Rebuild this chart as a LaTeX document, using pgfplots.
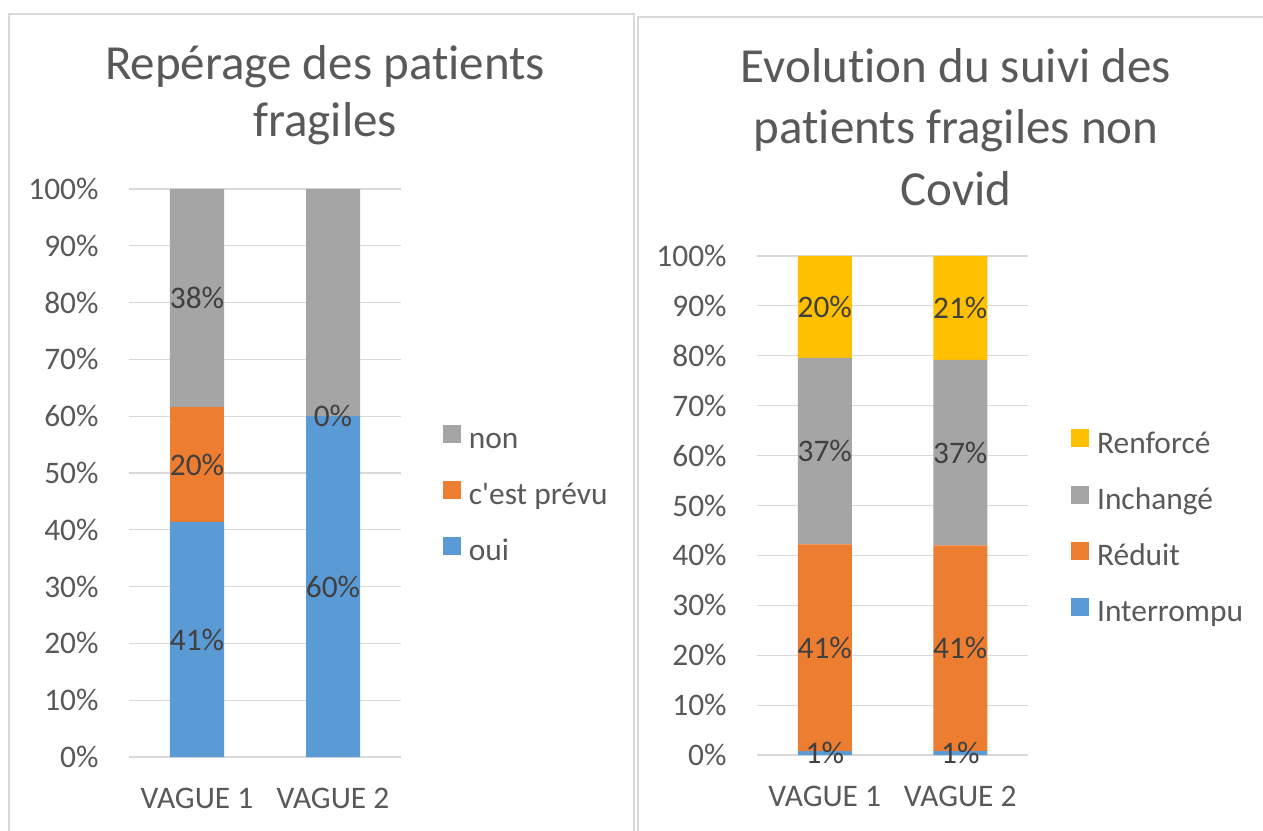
\documentclass[border=0pt]{standalone}
\usepackage{fontspec}
\setmainfont{Carlito}[Ligatures={TeXOff,NoCommon}]
\usepackage{pgfplots}
\pgfplotsset{compat=1.18}

\definecolor{xlblue}{HTML}{5B9BD5}
\definecolor{xlorange}{HTML}{ED7D31}
\definecolor{xlgray}{HTML}{A5A5A5}
\definecolor{xlyellow}{HTML}{FFC000}
\definecolor{txt}{HTML}{595959}
\definecolor{lbl}{HTML}{404040}
\definecolor{gridc}{HTML}{D9D9D9}

\newcommand{\smallfont}{\fontsize{15.7pt}{18pt}\selectfont}
\newcommand{\titlefont}{\fontsize{24.5pt}{29pt}\selectfont}

\pgfplotsset{
  xlchart/.style={
    ybar stacked,
    scale only axis,
    bar width=27pt,
    xmin=-0.5, xmax=1.5,
    ymin=0, ymax=100,
    xtick={0,1},
    xticklabels={VAGUE 1,VAGUE 2},
    ytick={0,10,...,100},
    yticklabel={\pgfmathprintnumber[assume math mode=true]{\tick}\%},
    major tick length=0pt,
    axis line style={draw=none},
    ymajorgrids,
    major grid style={draw=gridc, line width=0.6pt},
    tick label style={font=\smallfont, text=txt, inner sep=0pt},
    yticklabel style={anchor=east, xshift=-15pt},
    xticklabel style={anchor=north, yshift=-15.5pt},
    reverse legend,
    legend cell align=left,
    legend image code/.code={\fill[##1] (0pt,-0.9pt) rectangle (9pt,8.1pt);},
    legend style={draw=none, fill=none, inner sep=0pt, outer sep=0pt,
      column sep=4pt, row sep=12.7pt,
      nodes={inner sep=0pt, font=\smallfont, text=txt, text height=11pt, text depth=3.5pt}},
  },
  % same axis again, only the data labels, so they sit above every bar
  xllabels/.style={
    ybar stacked,
    scale only axis,
    hide axis,
    bar width=27pt,
    xmin=-0.5, xmax=1.5,
    ymin=0, ymax=100,
    point meta=rawy,
    nodes near coords={\pgfmathprintnumber[fixed,precision=0,assume math mode=true]{\pgfplotspointmeta}\%},
    every node near coord/.append style={font=\smallfont, text=lbl, inner sep=0pt, anchor=center},
  },
}

\begin{document}
\begin{tikzpicture}
\clip (0pt,0pt) rectangle (631.5pt,415pt);
\fill[white] (0pt,0pt) rectangle (631.5pt,415pt);

% frames
\draw[gridc, line width=1.25pt] (4.5pt,-5pt) rectangle (317pt,408pt);
\draw[gridc, line width=1.25pt] (319pt,-5pt) rectangle (640pt,406.5pt);

% left chart
\begin{axis}[xlchart,
    at={(64.5pt,36.5pt)}, width=136pt, height=284pt,
    legend style={at={(axis description cs:1.154,0.4586)}, anchor=west}]
  \addplot[fill=xlblue, draw=none] coordinates {(0,41.4) (1,60)};
  \addplot[fill=xlorange, draw=none] coordinates {(0,20.2) (1,0)};
  \addplot[fill=xlgray, draw=none] coordinates {(0,38.4) (1,40)};
  \legend{oui,c'est prévu,non}
\end{axis}
\begin{axis}[xllabels, at={(64.5pt,36.5pt)}, width=136pt, height=284pt]
  \addplot[fill=none, draw=none] coordinates {(0,41.4) (1,60)};
  \addplot[fill=none, draw=none] coordinates {(0,20.2) (1,0.01)};
  \addplot[fill=none, draw=none] coordinates {(0,38.4) (1,40)};
\end{axis}

% right chart
\begin{axis}[xlchart,
    at={(378.5pt,37.5pt)}, width=135.5pt, height=249.5pt,
    legend style={at={(axis description cs:1.159,0.453)}, anchor=west}]
  \addplot[fill=xlblue, draw=none] coordinates {(0,0.8) (1,0.8)};
  \addplot[fill=xlorange, draw=none] coordinates {(0,41.4) (1,41.2)};
  \addplot[fill=xlgray, draw=none] coordinates {(0,37.4) (1,37.2)};
  \addplot[fill=xlyellow, draw=none] coordinates {(0,20.4) (1,20.8)};
  \legend{Interrompu,Réduit,Inchangé,Renforcé}
\end{axis}
\begin{axis}[xllabels, at={(378.5pt,37.5pt)}, width=135.5pt, height=249.5pt]
  \addplot[fill=none, draw=none] coordinates {(0,0.8) (1,0.8)};
  \addplot[fill=none, draw=none] coordinates {(0,41.4) (1,41.2)};
  \addplot[fill=none, draw=none] coordinates {(0,37.4) (1,37.2)};
  \addplot[fill=none, draw=none] coordinates {(0,20.4) (1,20.8)};
\end{axis}

% titles
\node[anchor=base, font=\titlefont, text=txt] at (162.5pt,375pt) {Repérage des patients};
\node[anchor=base, font=\titlefont, text=txt] at (162.5pt,346.5pt) {fragiles};
\node[anchor=base, font=\titlefont, text=txt] at (478pt,373.5pt) {Evolution du suivi des};
\node[anchor=base, font=\titlefont, text=txt] at (478pt,343pt) {patients fragiles non};
\node[anchor=base, font=\titlefont, text=txt] at (478pt,312pt) {Covid};
\end{tikzpicture}
\end{document}
